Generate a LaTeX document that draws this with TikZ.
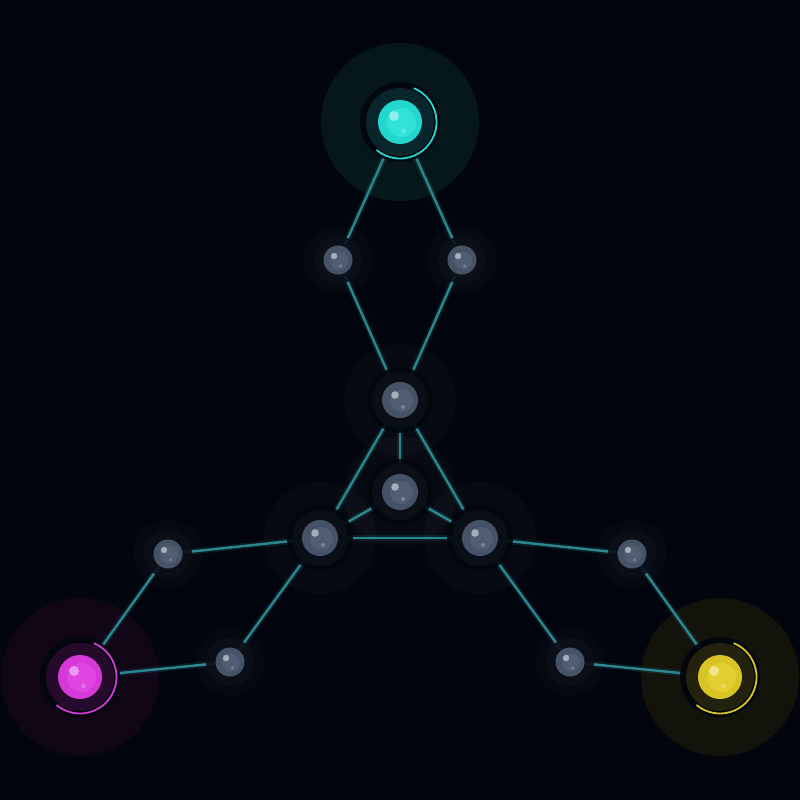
\documentclass[tikz,border=0pt]{standalone}
\definecolor{bg}{HTML}{02050D}
\definecolor{edgec}{HTML}{2A8792}
\definecolor{teal}{HTML}{22D8CE}
\definecolor{tealin}{HTML}{30E2D8}
\definecolor{tealdisc}{HTML}{0A2A30}
\definecolor{tealhalo}{HTML}{06171C}
\definecolor{mag}{HTML}{D53AD8}
\definecolor{magin}{HTML}{E045E2}
\definecolor{magdisc}{HTML}{2A0B30}
\definecolor{maghalo}{HTML}{100616}
\definecolor{yel}{HTML}{D8C425}
\definecolor{yelin}{HTML}{E2CE30}
\definecolor{yeldisc}{HTML}{27250F}
\definecolor{yelhalo}{HTML}{13130C}
\definecolor{slate}{HTML}{465266}
\definecolor{slatein}{HTML}{505D72}
\definecolor{ringc}{HTML}{0B0F17}
\definecolor{hubring}{HTML}{02070D}
\tikzset{
  edge/.style={draw=edgec, line width=2.4pt, line cap=round},
  edgeglow/.style={draw=edgec, line width=6pt, opacity=0.16, line cap=round},
  sphere/.style={circle, inner sep=0pt, draw=none},
}
\newcommand\hubnode[5]{% coord, name, main, inner, disc
  \fill[hubring, opacity=0.92] (#1) circle (40);
  \fill[#5, opacity=0.9] (#1) circle (34);
  \draw[#3, line width=1.8pt] ([shift={(-68:36.5)}]#1) arc[start angle=-68, end angle=130, radius=36.5];
  \node[sphere, fill=#3, minimum size=44pt] (#2) at (#1) {};
  \fill[#4] ([shift={(1.5,0.5)}]#1) circle (14.5);
  \fill[white, opacity=0.45] ([shift={(-6,-6)}]#1) circle (5);
  \fill[white, opacity=0.22] ([shift={(3.5,9)}]#1) circle (2.4);
}
\newcommand\bignode[2]{% coord, name
  \fill[hubring, opacity=0.9] (#1) circle (33);
  \fill[ringc, opacity=0.9] (#1) circle (28);
  \node[sphere, fill=slate, minimum size=36pt] (#2) at (#1) {};
  \fill[slatein] ([shift={(1.5,0.5)}]#1) circle (11.5);
  \fill[white, opacity=0.5] ([shift={(-5,-5)}]#1) circle (3.8);
  \fill[white, opacity=0.25] ([shift={(3,7)}]#1) circle (2);
}
\newcommand\smallnode[2]{% coord, name
  \fill[white, opacity=0.02] (#1) circle (34);
  \fill[ringc, opacity=0.9] (#1) circle (24);
  \node[sphere, fill=slate, minimum size=29pt] (#2) at (#1) {};
  \fill[slatein] ([shift={(1,0.5)}]#1) circle (9);
  \fill[white, opacity=0.5] ([shift={(-4,-4)}]#1) circle (3.2);
  \fill[white, opacity=0.25] ([shift={(2.5,6)}]#1) circle (1.7);
}
\begin{document}
\begin{tikzpicture}[x=1pt,y=-1pt]
\fill[bg] (0,0) rectangle (800,800);
\useasboundingbox (0,0) rectangle (800,800);
% positions
\coordinate (t) at (400,122);
\coordinate (m) at (80,677);
\coordinate (y) at (720,677);
\coordinate (a1) at (338,260);
\coordinate (a2) at (462,260);
\coordinate (c1) at (400,400);
\coordinate (c2) at (400,492);
\coordinate (c3) at (320,538);
\coordinate (c4) at (480,538);
\coordinate (b1) at (168,554);
\coordinate (b2) at (230,662);
\coordinate (d1) at (632,554);
\coordinate (d2) at (570,662);
% halos
\fill[tealhalo] (t) circle (79);
\fill[maghalo] (m) circle (79);
\fill[yelhalo] (y) circle (79);
\foreach \p in {c1,c2,c3,c4} \fill[white, opacity=0.022] (\p) circle (56);
% edges
\foreach \u/\v in {t/a1, t/a2, a1/c1, a2/c1, c1/c2, c1/c3, c1/c4, c2/c3, c2/c4, c3/c4, c3/b1, c3/b2, b1/m, b2/m, c4/d1, c4/d2, d1/y, d2/y}{
  \draw[edgeglow] (\u) -- (\v);
  \draw[edge] (\u) -- (\v);
}
% nodes
\hubnode{t}{tn}{teal}{tealin}{tealdisc}
\hubnode{m}{mn}{mag}{magin}{magdisc}
\hubnode{y}{yn}{yel}{yelin}{yeldisc}
\bignode{c1}{c1n}
\bignode{c2}{c2n}
\bignode{c3}{c3n}
\bignode{c4}{c4n}
\smallnode{a1}{a1n}
\smallnode{a2}{a2n}
\smallnode{b1}{b1n}
\smallnode{b2}{b2n}
\smallnode{d1}{d1n}
\smallnode{d2}{d2n}
\end{tikzpicture}
\end{document}
